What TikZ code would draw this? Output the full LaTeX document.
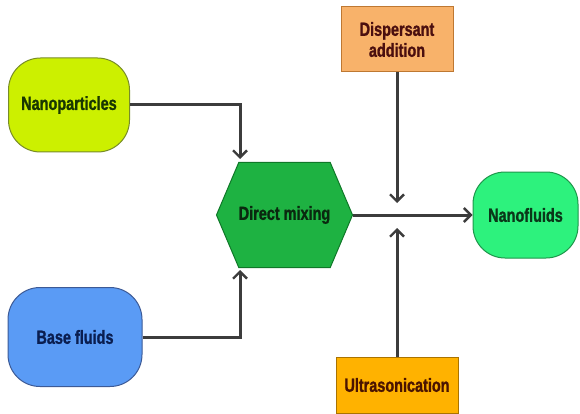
\documentclass[tikz,border=0pt]{standalone}
\usepackage{fontspec}
\setmainfont[FakeStretch=0.76,BoldFeatures={FakeBold=1.2}]{Liberation Sans}
\usetikzlibrary{arrows.meta,shapes.symbols}
\definecolor{linegray}{HTML}{3C3C3C}
\definecolor{npfill}{RGB}{204,240,0}
\definecolor{npline}{RGB}{120,140,40}
\definecolor{nptext}{RGB}{25,55,0}
\definecolor{bffill}{RGB}{90,155,245}
\definecolor{bfline}{RGB}{60,90,150}
\definecolor{bftext}{RGB}{10,30,80}
\definecolor{mixfill}{RGB}{30,178,66}
\definecolor{mixline}{RGB}{15,120,40}
\definecolor{mixtext}{RGB}{10,40,15}
\definecolor{dispfill}{RGB}{248,178,106}
\definecolor{displine}{RGB}{190,120,50}
\definecolor{disptext}{RGB}{75,15,15}
\definecolor{usfill}{RGB}{255,178,0}
\definecolor{usline}{RGB}{170,115,0}
\definecolor{ustext}{RGB}{75,20,0}
\definecolor{nffill}{RGB}{45,242,125}
\definecolor{nfline}{RGB}{30,150,75}
\definecolor{nftext}{RGB}{10,55,25}
\begin{document}
\begin{tikzpicture}
    [x=1pt,y=-1pt,font=\fontsize{19}{21}\selectfont\bfseries,
     rbox/.style={rounded corners=32pt,draw,line width=1pt,align=center},
     sbox/.style={rectangle,draw,line width=1pt,align=center},
     flow/.style={linegray,line width=3pt,-{Straight Barb[length=7pt,width=14pt,line width=2.4pt]}}]
    \useasboundingbox (0,0) rectangle (580,414);
    \node (np) at (69, 105) [rbox,fill=npfill,draw=npline,text=nptext,minimum width=121pt,minimum height=94pt] {Nanoparticles};
    \node (bf) at (75, 337) [rbox,fill=bffill,draw=bfline,text=bftext,minimum width=134pt,minimum height=99pt] {Base fluids};
    \node (mix) at (284.5, 215) [signal,signal to=west and east,signal pointer angle=134,line width=1pt,fill=mixfill,draw=mixline,text=mixtext,minimum width=126pt,minimum height=105pt,inner sep=0pt] {Direct mixing};
    \node (disp) at (397, 39.5) [sbox,fill=dispfill,draw=displine,text=disptext,minimum width=112pt,minimum height=65pt] {Dispersant\\addition};
    \node (us) at (397, 385) [sbox,fill=usfill,draw=usline,text=ustext,minimum width=122pt,minimum height=56pt] {Ultrasonication};
    \node (nf) at (525.5, 215) [rbox,fill=nffill,draw=nfline,text=nftext,minimum width=105pt,minimum height=86pt] {Nanofluids};
    \coordinate (intop) at (240, 159);
    \coordinate (inbot) at (240, 270);
    \coordinate (joinup) at (397, 203);
    \coordinate (joindown) at (397, 228);
    \draw [flow] (np.east) -| (intop);
    \draw [flow] (bf.east) -| (inbot);
    \draw [flow] (disp.south) to (joinup);
    \draw [flow] (us.north) to (joindown);
    \draw [flow] (mix.east) to (nf.west);
  \end{tikzpicture}
\end{document}
